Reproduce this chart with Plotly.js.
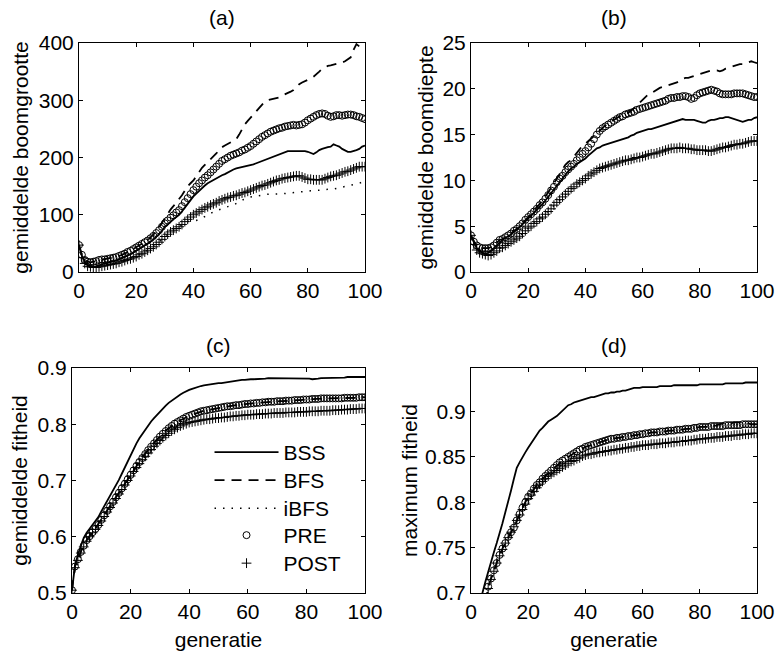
<!DOCTYPE html>
<html>
<head>
<meta charset="utf-8">
<script src="https://cdn.plot.ly/plotly-3.0.1.min.js"></script>
<style>html,body{margin:0;padding:0;background:#fff;}#chart{width:776px;height:652px;}</style>
</head>
<body>
<div id="chart"></div>
<script>
// generation index 0..100
var generatie = Array.from({length: 101}, function (_, i) { return i; });
var seriesNames = ['BSS', 'BFS', 'iBFS', 'PRE', 'POST'];
var panelTitles = ['(a)', '(b)', '(c)', '(d)'];
var yTitles = ['gemiddelde boomgrootte', 'gemiddelde boomdiepte', 'gemiddelde fitheid', 'maximum fitheid'];
var xTitle = 'generatie';

// (a) gemiddelde boomgrootte
var aBSS = [47,28,18,12,10,9,10,12,13,15,
16,17,19,20,22,24,26,28,31,34,
37,40,43,46,50,53,57,61,66,72,
79,83,88,92,96,100,106,113,119,126,
132,137,142,146,151,155,158,161,164,167,
169,171,174,177,179,181,182,183,184,185,
186,188,190,192,194,196,198,200,202,204,
205,208,210,211,211,211,212,212,212,211,
210,208,206,209,213,215,217,218,219,223,
221,219,215,212,210,210,211,213,215,219,
221];
var aBFS = [47,30,21,18,17,18,19,21,22,22,
23,24,25,26,28,30,32,35,37,40,
43,46,49,52,56,60,65,71,78,86,
95,102,109,115,121,126,134,142,150,155,
160,167,175,182,187,192,197,201,207,213,
218,221,224,226,229,232,240,249,258,264,
270,276,282,287,293,298,300,301,302,303,
305,308,310,312,315,318,323,328,331,333,
335,338,341,345,350,355,358,360,361,362,
363,365,366,368,371,375,388,398,394,390,
388];
var aIBFS = [47,25,15,10,9,8,8,9,10,11,
12,13,14,15,17,18,20,22,23,25,
27,30,32,35,38,41,44,48,52,57,
62,66,70,73,76,79,82,85,88,89,
89,90,92,94,97,100,103,105,107,109,
110,112,114,116,117,120,123,126,128,130,
131,132,133,134,135,136,136,136,136,136,
136,137,137,138,138,139,139,140,140,141,
141,142,142,143,143,143,144,144,145,145,
146,147,148,149,150,151,152,153,155,157,
158];
var aPRE = [47,30,21,18,17,18,19,21,22,22,
23,24,25,26,28,30,32,35,37,40,
43,46,49,52,55,59,63,68,73,79,
85,90,95,99,104,108,115,122,129,136,
143,149,155,160,165,169,174,179,184,189,
194,197,200,203,205,207,209,212,214,217,
220,224,228,232,236,239,242,245,247,249,
251,252,254,255,256,257,256,257,258,261,
265,268,271,274,276,277,276,273,271,272,
274,274,273,274,275,275,274,272,271,269,
267];
var aPOST = [47,25,15,10,9,8,8,9,10,11,
12,13,14,15,17,18,20,22,23,25,
27,30,32,35,38,41,44,48,52,57,
62,66,70,73,76,79,83,88,92,96,
100,103,106,109,112,114,117,119,121,124,
126,128,130,131,133,134,136,138,139,141,
143,145,147,149,151,152,154,156,158,160,
161,163,164,165,166,167,168,168,166,164,
162,162,161,161,161,161,163,165,167,168,
169,171,173,175,176,178,180,182,184,184,
184];

// (b) gemiddelde boomdiepte
var bBSS = [4.0,3.2,2.6,2.3,2.1,2.0,2.1,2.3,2.6,3.0,
3.3,3.5,3.7,3.9,4.1,4.4,4.6,4.9,5.2,5.6,
5.9,6.2,6.5,6.8,7.1,7.4,7.8,8.2,8.7,9.1,
9.5,9.9,10.3,10.7,11.0,11.3,11.5,11.8,12.0,12.2,
12.4,12.7,13.0,13.3,13.5,13.6,13.8,13.9,14.0,14.1,
14.2,14.3,14.4,14.5,14.6,14.7,14.9,15.0,15.2,15.3,
15.4,15.5,15.6,15.6,15.7,15.8,15.9,16.0,16.1,16.2,
16.3,16.4,16.5,16.6,16.7,16.6,16.6,16.6,16.6,16.5,
16.4,16.3,16.3,16.5,16.6,16.6,16.7,16.8,16.8,16.9,
16.9,16.8,16.7,16.6,16.5,16.4,16.5,16.6,16.6,16.8,
16.9];
var bBFS = [4.0,3.3,2.9,2.7,2.6,2.6,2.6,2.7,2.9,3.2,
3.5,3.6,3.8,4.0,4.2,4.5,4.7,5.0,5.3,5.7,
6.0,6.4,6.7,7.0,7.4,7.8,8.2,8.7,9.2,9.7,
10.2,10.7,11.2,11.7,12.0,12.2,12.6,13.0,13.5,13.8,
14.0,14.3,14.6,14.9,15.2,15.5,15.8,16.0,16.2,16.4,
16.6,16.8,17.0,17.1,17.3,17.4,17.6,17.9,18.2,18.5,
18.9,19.2,19.4,19.5,19.7,19.9,20.1,20.2,20.3,20.4,
20.5,20.6,20.7,20.9,21.1,21.2,21.2,21.3,21.4,21.5,
21.6,21.7,21.8,21.9,22.0,22.0,22.0,21.9,22.0,22.2,
22.3,22.4,22.5,22.6,22.7,22.7,22.8,22.9,23.0,22.9,
22.8];
var bIBFS = [4.0,3.0,2.4,2.1,2.0,1.9,1.8,1.9,2.1,2.3,
2.6,2.7,2.9,3.1,3.3,3.5,3.7,3.9,4.2,4.5,
4.8,5.0,5.3,5.5,5.8,6.0,6.3,6.6,6.9,7.3,
7.6,7.9,8.2,8.5,8.8,9.1,9.3,9.6,9.8,10.0,
10.2,10.5,10.7,10.9,11.1,11.3,11.4,11.5,11.6,11.7,
11.8,11.9,12.0,12.1,12.2,12.2,12.3,12.4,12.5,12.5,
12.6,12.7,12.8,12.9,12.9,13.0,13.1,13.2,13.3,13.4,
13.5,13.5,13.5,13.6,13.5,13.5,13.5,13.4,13.4,13.3,
13.3,13.3,13.3,13.2,13.2,13.3,13.4,13.5,13.6,13.6,
13.7,13.8,13.9,13.9,14.0,14.0,14.1,14.2,14.3,14.3,
14.3];
var bPRE = [4.0,3.3,2.9,2.7,2.6,2.6,2.6,2.7,2.9,3.2,
3.5,3.6,3.8,4.0,4.2,4.5,4.7,5.0,5.3,5.7,
6.0,6.3,6.6,6.9,7.3,7.6,8.0,8.4,8.9,9.3,
9.8,10.2,10.5,10.9,11.2,11.5,11.8,12.2,12.5,12.9,
13.2,13.6,14.0,14.5,15.0,15.4,15.7,15.9,16.1,16.3,
16.5,16.7,16.9,17.0,17.2,17.3,17.4,17.5,17.7,17.8,
17.9,18.0,18.1,18.2,18.3,18.4,18.5,18.6,18.7,18.9,
19.0,19.0,19.1,19.1,19.2,19.2,19.1,18.9,19.0,19.3,
19.5,19.6,19.7,19.8,19.9,19.8,19.7,19.5,19.4,19.4,
19.4,19.4,19.5,19.5,19.5,19.5,19.4,19.3,19.2,19.1,
19.1];
var bPOST = [4.0,3.0,2.4,2.1,2.0,1.9,1.8,1.9,2.1,2.3,
2.6,2.7,2.9,3.1,3.3,3.5,3.7,3.9,4.2,4.5,
4.8,5.0,5.3,5.5,5.8,6.0,6.3,6.6,6.9,7.3,
7.6,7.9,8.2,8.5,8.8,9.1,9.3,9.6,9.8,10.0,
10.2,10.5,10.7,10.9,11.1,11.3,11.4,11.5,11.6,11.7,
11.8,11.9,12.0,12.1,12.2,12.2,12.3,12.4,12.5,12.5,
12.6,12.7,12.8,12.9,12.9,13.0,13.1,13.2,13.3,13.4,
13.5,13.5,13.5,13.6,13.5,13.5,13.5,13.4,13.4,13.3,
13.3,13.3,13.3,13.2,13.2,13.3,13.4,13.5,13.6,13.6,
13.7,13.8,13.9,13.9,14.0,14.0,14.1,14.2,14.3,14.3,
14.3];

// (c) gemiddelde fitheid
var cBSS = [0.505,0.548,0.568,0.585,0.598,0.607,0.614,0.619,0.626,0.635,
0.645,0.654,0.663,0.672,0.681,0.690,0.701,0.712,0.723,0.735,
0.746,0.756,0.766,0.775,0.783,0.791,0.798,0.805,0.811,0.817,
0.823,0.828,0.833,0.838,0.842,0.846,0.850,0.853,0.856,0.859,
0.861,0.863,0.865,0.867,0.868,0.869,0.870,0.871,0.871,0.872,
0.873,0.873,0.874,0.875,0.875,0.876,0.877,0.878,0.879,0.879,
0.880,0.880,0.880,0.880,0.881,0.881,0.881,0.882,0.882,0.882,
0.882,0.882,0.882,0.882,0.882,0.882,0.882,0.882,0.882,0.882,
0.882,0.881,0.880,0.880,0.881,0.882,0.882,0.883,0.883,0.883,
0.883,0.883,0.883,0.883,0.884,0.884,0.884,0.884,0.884,0.884,
0.884];
var cBFS = [0.505,0.547,0.561,0.574,0.585,0.594,0.602,0.609,0.615,0.622,
0.631,0.639,0.647,0.655,0.663,0.671,0.679,0.687,0.695,0.703,
0.711,0.719,0.727,0.734,0.741,0.748,0.755,0.761,0.767,0.773,
0.779,0.784,0.789,0.793,0.797,0.801,0.804,0.807,0.810,0.813,
0.815,0.817,0.819,0.821,0.823,0.824,0.825,0.826,0.827,0.828,
0.829,0.830,0.831,0.832,0.832,0.833,0.834,0.834,0.835,0.836,
0.836,0.837,0.837,0.838,0.838,0.839,0.839,0.840,0.840,0.840,
0.841,0.841,0.841,0.842,0.842,0.842,0.843,0.843,0.843,0.844,
0.844,0.844,0.845,0.845,0.845,0.846,0.846,0.846,0.846,0.846,
0.846,0.846,0.846,0.847,0.847,0.847,0.847,0.847,0.848,0.848,
0.848];
var cIBFS = [0.505,0.545,0.558,0.571,0.582,0.592,0.600,0.607,0.613,0.620,
0.628,0.636,0.644,0.652,0.660,0.668,0.676,0.684,0.692,0.700,
0.708,0.716,0.723,0.730,0.737,0.743,0.749,0.755,0.761,0.766,
0.771,0.776,0.780,0.784,0.788,0.791,0.794,0.797,0.799,0.801,
0.803,0.804,0.805,0.806,0.807,0.808,0.809,0.809,0.810,0.811,
0.811,0.812,0.812,0.813,0.814,0.814,0.815,0.815,0.816,0.816,
0.817,0.817,0.817,0.818,0.818,0.818,0.819,0.819,0.819,0.820,
0.820,0.820,0.820,0.821,0.821,0.821,0.821,0.822,0.822,0.822,
0.822,0.823,0.823,0.823,0.823,0.824,0.824,0.824,0.824,0.825,
0.825,0.825,0.826,0.826,0.826,0.827,0.827,0.827,0.828,0.828,
0.828];
var cPRE = [0.505,0.547,0.560,0.573,0.584,0.594,0.601,0.608,0.614,0.621,
0.630,0.638,0.646,0.654,0.662,0.670,0.678,0.686,0.694,0.702,
0.710,0.718,0.726,0.733,0.740,0.747,0.754,0.760,0.766,0.772,
0.778,0.783,0.788,0.793,0.797,0.801,0.804,0.807,0.810,0.813,
0.815,0.817,0.819,0.821,0.823,0.824,0.825,0.826,0.827,0.828,
0.829,0.830,0.831,0.832,0.832,0.833,0.834,0.834,0.835,0.836,
0.836,0.837,0.837,0.838,0.838,0.839,0.839,0.840,0.840,0.840,
0.841,0.841,0.841,0.842,0.842,0.842,0.843,0.843,0.843,0.844,
0.844,0.844,0.845,0.845,0.845,0.846,0.846,0.846,0.846,0.846,
0.846,0.846,0.846,0.847,0.847,0.847,0.847,0.847,0.848,0.848,
0.848];
var cPOST = [0.505,0.545,0.558,0.571,0.582,0.592,0.600,0.607,0.613,0.620,
0.628,0.636,0.644,0.652,0.660,0.668,0.676,0.684,0.692,0.700,
0.708,0.716,0.723,0.730,0.737,0.743,0.749,0.755,0.761,0.766,
0.771,0.776,0.780,0.784,0.788,0.791,0.794,0.797,0.799,0.801,
0.803,0.804,0.805,0.806,0.807,0.808,0.809,0.809,0.810,0.811,
0.811,0.812,0.812,0.813,0.814,0.814,0.815,0.815,0.816,0.816,
0.817,0.817,0.817,0.818,0.818,0.818,0.819,0.819,0.819,0.820,
0.820,0.820,0.820,0.821,0.821,0.821,0.821,0.822,0.822,0.822,
0.822,0.823,0.823,0.823,0.823,0.824,0.824,0.824,0.824,0.825,
0.825,0.825,0.826,0.826,0.826,0.827,0.827,0.827,0.828,0.828,
0.828];

// (d) maximum fitheid
var dBSS = [0.600,0.625,0.648,0.672,0.700,0.712,0.724,0.735,0.745,0.755,
0.765,0.777,0.789,0.800,0.813,0.826,0.838,0.844,0.850,0.855,
0.860,0.865,0.870,0.875,0.879,0.882,0.886,0.889,0.891,0.893,
0.895,0.898,0.901,0.905,0.907,0.908,0.910,0.911,0.912,0.913,
0.914,0.915,0.916,0.916,0.917,0.918,0.919,0.920,0.920,0.921,
0.921,0.922,0.922,0.923,0.923,0.924,0.925,0.926,0.926,0.926,
0.927,0.927,0.927,0.927,0.927,0.927,0.928,0.928,0.928,0.928,
0.928,0.929,0.929,0.929,0.929,0.929,0.929,0.929,0.929,0.929,
0.930,0.930,0.930,0.930,0.930,0.930,0.930,0.930,0.930,0.931,
0.931,0.931,0.931,0.931,0.931,0.931,0.932,0.932,0.932,0.932,
0.932];
var dBFS = [0.560,0.590,0.615,0.640,0.662,0.685,0.707,0.716,0.725,0.733,
0.742,0.749,0.755,0.762,0.767,0.772,0.780,0.787,0.794,0.800,
0.806,0.810,0.815,0.819,0.822,0.826,0.829,0.832,0.835,0.838,
0.841,0.844,0.846,0.848,0.850,0.852,0.854,0.856,0.858,0.859,
0.861,0.862,0.863,0.864,0.865,0.866,0.867,0.868,0.869,0.870,
0.870,0.871,0.871,0.872,0.872,0.873,0.873,0.874,0.874,0.875,
0.875,0.876,0.876,0.877,0.877,0.877,0.878,0.878,0.878,0.879,
0.879,0.879,0.880,0.880,0.880,0.881,0.881,0.881,0.882,0.882,
0.883,0.883,0.883,0.883,0.884,0.884,0.885,0.886,0.887,0.887,
0.887,0.887,0.888,0.888,0.888,0.888,0.888,0.887,0.886,0.886,
0.886];
var dIBFS = [0.560,0.590,0.615,0.640,0.662,0.684,0.705,0.715,0.724,0.733,
0.741,0.748,0.755,0.761,0.767,0.773,0.780,0.786,0.792,0.798,
0.804,0.808,0.812,0.816,0.820,0.823,0.826,0.829,0.831,0.833,
0.835,0.837,0.839,0.841,0.843,0.845,0.846,0.848,0.849,0.851,
0.852,0.853,0.853,0.854,0.855,0.855,0.856,0.856,0.857,0.857,
0.858,0.858,0.859,0.859,0.860,0.860,0.861,0.861,0.862,0.862,
0.863,0.863,0.863,0.864,0.864,0.864,0.865,0.865,0.865,0.866,
0.866,0.866,0.867,0.867,0.867,0.868,0.868,0.868,0.869,0.869,
0.870,0.870,0.870,0.871,0.871,0.871,0.872,0.872,0.872,0.873,
0.873,0.873,0.874,0.874,0.874,0.875,0.875,0.875,0.876,0.876,
0.876];
var dPRE = [0.560,0.590,0.615,0.640,0.662,0.685,0.707,0.716,0.725,0.733,
0.742,0.749,0.755,0.762,0.767,0.772,0.780,0.787,0.794,0.800,
0.806,0.810,0.815,0.819,0.822,0.826,0.829,0.832,0.835,0.838,
0.841,0.844,0.846,0.848,0.850,0.852,0.854,0.856,0.858,0.859,
0.861,0.862,0.863,0.864,0.865,0.866,0.867,0.868,0.869,0.870,
0.870,0.871,0.871,0.872,0.872,0.873,0.873,0.874,0.874,0.875,
0.875,0.876,0.876,0.877,0.877,0.877,0.878,0.878,0.878,0.879,
0.879,0.879,0.880,0.880,0.880,0.881,0.881,0.881,0.882,0.882,
0.883,0.883,0.883,0.883,0.884,0.884,0.884,0.884,0.884,0.885,
0.885,0.885,0.885,0.885,0.885,0.886,0.886,0.886,0.886,0.886,
0.886];
var dPOST = [0.560,0.590,0.615,0.640,0.662,0.684,0.705,0.715,0.724,0.733,
0.741,0.748,0.755,0.761,0.767,0.773,0.780,0.786,0.792,0.798,
0.804,0.808,0.812,0.816,0.820,0.823,0.826,0.829,0.831,0.833,
0.835,0.837,0.839,0.841,0.843,0.845,0.846,0.848,0.849,0.851,
0.852,0.853,0.853,0.854,0.855,0.855,0.856,0.856,0.857,0.857,
0.858,0.858,0.859,0.859,0.860,0.860,0.861,0.861,0.862,0.862,
0.863,0.863,0.863,0.864,0.864,0.864,0.865,0.865,0.865,0.866,
0.866,0.866,0.867,0.867,0.867,0.868,0.868,0.868,0.869,0.869,
0.870,0.870,0.870,0.871,0.871,0.871,0.872,0.872,0.872,0.873,
0.873,0.873,0.874,0.874,0.874,0.875,0.875,0.875,0.876,0.876,
0.876];

var panels = [
  [aBSS, aBFS, aIBFS, aPRE, aPOST],
  [bBSS, bBFS, bIBFS, bPRE, bPOST],
  [cBSS, cBFS, cIBFS, cPRE, cPOST],
  [dBSS, dBFS, dIBFS, dPRE, dPOST]
];

var FONT = 'Liberation Sans, Arial, Helvetica, sans-serif';
var styles = [
  {mode: 'lines', line: {color: '#000', width: 1.8, dash: 'solid'}},
  {mode: 'lines', line: {color: '#000', width: 1.8, dash: '10px,7px'}},
  {mode: 'lines', line: {color: '#000', width: 1.5, dash: '1.5px,7px'}},
  {mode: 'markers', marker: {symbol: 'circle-open', size: 7, color: '#000', line: {width: 1, color: '#000'}}},
  {mode: 'markers', marker: {symbol: 'cross-thin-open', size: 7, color: '#000', line: {width: 1, color: '#000'}}}
];
var legendIds = ['legend', 'legend2', 'legend3', 'legend4', 'legend5'];

var traces = [];
panels.forEach(function (series, p) {
  var sfx = p === 0 ? '' : String(p + 1);
  series.forEach(function (vals, s) {
    var t = {
      type: 'scatter', x: generatie, y: vals, name: seriesNames[s],
      xaxis: 'x' + sfx, yaxis: 'y' + sfx,
      showlegend: p === 2, legend: legendIds[s], hoverinfo: 'skip'
    };
    Object.keys(styles[s]).forEach(function (k) { t[k] = styles[s][k]; });
    traces.push(t);
  });
});

var W = 776, H = 652;
var boxes = [
  {l: 79, r: 365, t: 43, b: 272},
  {l: 471, r: 757, t: 43, b: 272},
  {l: 72, r: 365, t: 368, b: 593},
  {l: 471, r: 757, t: 368, b: 593}
];
var titleGap = [12, 12, 9, 9];
var yRanges = [[0, 400], [0, 25], [0.5, 0.9], [0.7, 0.948]];
var yTicks = [
  {tickvals: [0, 100, 200, 300, 400], ticktext: ['0', '100', '200', '300', '400']},
  {tickvals: [0, 5, 10, 15, 20, 25], ticktext: ['0', '5', '10', '15', '20', '25']},
  {tickvals: [0.5, 0.6, 0.7, 0.8, 0.9], ticktext: ['0.5', '0.6', '0.7', '0.8', '0.9']},
  {tickvals: [0.7, 0.75, 0.8, 0.85, 0.9], ticktext: ['0.7', '0.75', '0.8', '0.85', '0.9']}
];
var xTickVals = [0, 20, 40, 60, 80, 100];
var xTickText = ['0', '20', '40', '60', '80', '100'];
var yStandoff = [4, 3, 4, 1];

var axBase = {
  showline: true, linecolor: '#000', linewidth: 1, mirror: 'allticks',
  ticks: 'inside', ticklen: 4, tickwidth: 1, tickcolor: '#000',
  showgrid: false, zeroline: false, automargin: false, fixedrange: true,
  tickfont: {family: FONT, size: 21, color: '#000'}
};

var layout = {
  width: W, height: H,
  margin: {l: 0, r: 0, t: 0, b: 0},
  paper_bgcolor: '#fff', plot_bgcolor: '#fff',
  font: {family: FONT, size: 21, color: '#000'},
  showlegend: true,
  annotations: []
};

// legend rows (item centres in px): 452, 480, 508, 535, 563
var legendRowTop = [432, 460, 488, 515, 543];
legendIds.forEach(function (id, i) {
  layout[id] = {
    x: 0.270, y: 1 - legendRowTop[i] / H, xanchor: 'left', yanchor: 'top',
    bgcolor: 'rgba(0,0,0,0)', borderwidth: 0,
    font: {family: FONT, size: 21, color: '#000'},
    itemwidth: 64
  };
});

boxes.forEach(function (bx, p) {
  var sfx = p === 0 ? '' : String(p + 1);
  var xa = Object.assign({}, axBase, {
    domain: [bx.l / W, bx.r / W], range: [0, 100],
    tickvals: xTickVals, ticktext: xTickText,
    anchor: 'y' + sfx
  });
  if (p >= 2) xa.title = {text: xTitle, font: {family: FONT, size: 21, color: '#000'}, standoff: 10};
  var ya = Object.assign({}, axBase, {
    domain: [1 - bx.b / H, 1 - bx.t / H], range: yRanges[p],
    tickvals: yTicks[p].tickvals, ticktext: yTicks[p].ticktext,
    anchor: 'x' + sfx,
    title: {text: yTitles[p], font: {family: FONT, size: 21, color: '#000'}, standoff: yStandoff[p]}
  });
  layout['xaxis' + sfx] = xa;
  layout['yaxis' + sfx] = ya;
  layout.annotations.push({
    text: panelTitles[p], xref: 'paper', yref: 'paper',
    x: (bx.l + bx.r) / 2 / W, y: 1 - (bx.t - titleGap[p]) / H,
    xanchor: 'center', yanchor: 'bottom', showarrow: false,
    font: {family: FONT, size: 21, color: '#000'}
  });
});

Plotly.newPlot('chart', traces, layout, {displayModeBar: false, staticPlot: true});
</script>
</body>
</html>
